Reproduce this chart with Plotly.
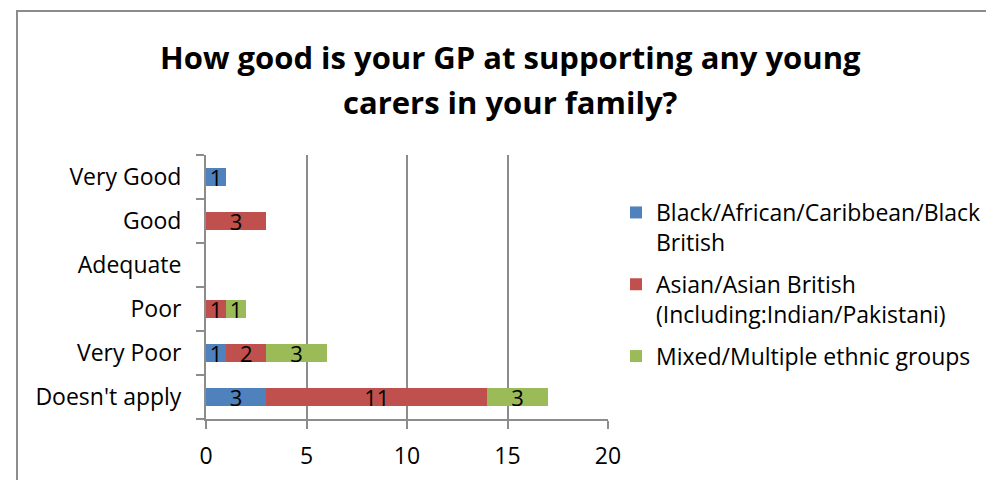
import plotly.graph_objects as go

# Response categories, listed bottom to top as plotted
categories = ["Doesn't apply", "Very Poor", "Poor", "Adequate", "Good", "Very Good"]

# Counts per ethnic group (None = no responses)
black_african = [3, 1, None, None, None, 1]
asian_british = [11, 2, 1, None, 3, None]
mixed_multiple = [3, 3, 1, None, None, None]

series_names = [
    "Black/African/Caribbean/Black<br>British",
    "Asian/Asian British<br>(Including:Indian/Pakistani)",
    "Mixed/Multiple ethnic groups",
]
series_values = [black_african, asian_british, mixed_multiple]
series_colors = ["#4F81BD", "#C0504D", "#9BBB59"]

title_lines = ["How good is your GP at supporting any young", "carers in your family?"]
x_ticks = [0, 5, 10, 15, 20]

FONT = "Open Sans"
GRID = "#8C8C8C"
FS = 23

W, H = 986, 480
L, R, T, B = 206, 378, 155, 61
plot_w = W - L - R
plot_h = H - T - B

fig = go.Figure()
for i, (name, vals, col) in enumerate(zip(series_names, series_values, series_colors)):
    fig.add_trace(go.Bar(
        y=categories,
        x=vals,
        name=name,
        legendgroup="g%d" % i,
        orientation="h",
        marker=dict(color=col, line=dict(width=0)),
        texttemplate="%{x}",
        textposition="inside",
        insidetextanchor="middle",
        textangle=0,
        constraintext="none",
        textfont=dict(family=FONT, size=22, color="black"),
    ))

fig.update_layout(
    width=W, height=H,
    margin=dict(l=L, r=R, t=T, b=B, pad=0, autoexpand=False),
    paper_bgcolor="white",
    plot_bgcolor="white",
    barmode="stack",
    bargap=0.59,
    font=dict(family=FONT, size=FS, color="black"),
    showlegend=True,
    legend=dict(
        x=(616 - L) / plot_w, xanchor="left",
        y=(419 - 191) / plot_h, yanchor="top",
        font=dict(family=FONT, size=23, color="black"),
        traceorder="grouped",
        tracegroupgap=9,
        valign="top",
        itemwidth=30,
        bgcolor="rgba(0,0,0,0)",
    ),
    xaxis=dict(
        range=[0, 20],
        tickvals=x_ticks,
        showgrid=True, gridcolor=GRID, gridwidth=2,
        showline=True, linecolor=GRID, linewidth=2,
        ticks="outside", ticklen=8, tickcolor=GRID, tickwidth=2,
        ticklabelstandoff=7,
        zeroline=False,
        automargin=False,
        fixedrange=True,
    ),
    yaxis=dict(
        categoryorder="array", categoryarray=categories,
        showgrid=False,
        showline=True, linecolor=GRID, linewidth=2,
        ticks="outside", ticklen=8, tickcolor=GRID, tickwidth=2,
        tickson="boundaries",
        ticklabelstandoff=18,
        automargin=False,
        fixedrange=True,
    ),
)

# Two-line bold title
for i, line in enumerate(title_lines):
    fig.add_annotation(
        text="<b>%s</b>" % line,
        xref="paper", yref="paper",
        x=(510 - L) / plot_w, y=(419 - (57 + 45 * i)) / plot_h,
        xanchor="center", yanchor="middle",
        showarrow=False,
        font=dict(family=FONT, size=31, color="black"),
    )

# Chart frame
fig.add_shape(
    type="rect", xref="paper", yref="paper",
    x0=(17 - L) / plot_w, x1=(1000 - L) / plot_w,
    y0=(419 - 500) / plot_h, y1=(419 - 11) / plot_h,
    line=dict(color="#8C8C8C", width=2),
    fillcolor="rgba(0,0,0,0)",
    layer="below",
)

fig.write_html("out.html")
